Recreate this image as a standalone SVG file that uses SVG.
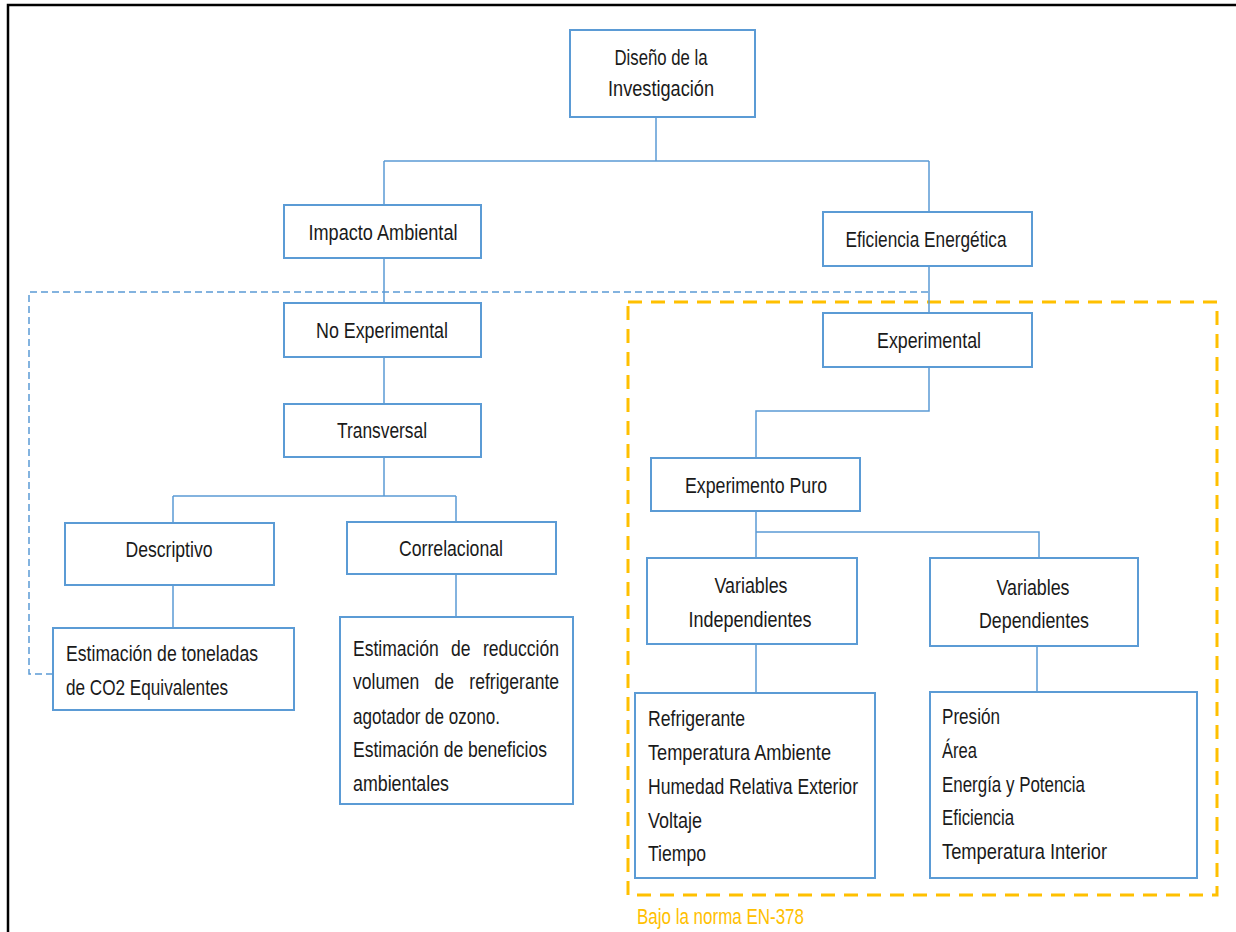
<svg xmlns="http://www.w3.org/2000/svg" width="1236" height="932" viewBox="0 0 1236 932">
<style>
.box{fill:#fff;stroke:#5B9BD5;stroke-width:2}
.t{font-family:"Liberation Sans",Arial,sans-serif;font-size:22px;fill:#1a1a1a}
.c{text-anchor:middle}
.ln{fill:none;stroke:#5B9BD5;stroke-width:1.5}
.dash{fill:none;stroke:#5B9BD5;stroke-width:1.5;stroke-dasharray:7 4}
.org{fill:none;stroke:#FFC000;stroke-width:3;stroke-dasharray:14 9}
</style>
<rect width="1236" height="932" fill="#fff"/>
<path d="M8 932 V5 H1236" fill="none" stroke="#000" stroke-width="2.5"/>
<rect class="org" x="628" y="302" width="589" height="593"/>
<text class="t" x="637" y="924" style="fill:#FFC000" textLength="167" lengthAdjust="spacingAndGlyphs">Bajo la norma EN-378</text>
<g id="connectors">
<path class="ln" d="M656 117 V161 M384 161 H929 M384 161 V205 M929 161 V212"/>
<path class="ln" d="M384 258 V303 M384 357 V404 M384 457 V496 M173 496 H456 M173 496 V523 M456 496 V522"/>
<path class="ln" d="M173 585 V628 M456 574 V617"/>
<path class="ln" d="M929 266 V313 M929 367 V411 H756 V458 M756 511 V532 H1039 V558 M756 532 V558"/>
<path class="ln" d="M756 644 V693 M1037 646 V692"/>
<path class="dash" d="M53 674 H29 V292 H929"/>
</g>
<g id="n-diseno"><rect class="box" x="570" y="30" width="185" height="87"/>
<text class="t c" x="661" y="65" textLength="93" lengthAdjust="spacingAndGlyphs">Diseño de la</text>
<text class="t c" x="661" y="96" textLength="106" lengthAdjust="spacingAndGlyphs">Investigación</text></g>
<g id="n-impacto"><rect class="box" x="284" y="205" width="197" height="53"/>
<text class="t c" x="383" y="240" textLength="149" lengthAdjust="spacingAndGlyphs">Impacto Ambiental</text></g>
<g id="n-eficiencia"><rect class="box" x="823" y="212" width="209" height="54"/>
<text class="t c" x="926" y="247" textLength="161" lengthAdjust="spacingAndGlyphs">Eficiencia Energética</text></g>
<g id="n-noexp"><rect class="box" x="284" y="303" width="197" height="54"/>
<text class="t c" x="382" y="338" textLength="132" lengthAdjust="spacingAndGlyphs">No Experimental</text></g>
<g id="n-transversal"><rect class="box" x="284" y="404" width="197" height="53"/>
<text class="t c" x="382" y="438" textLength="90" lengthAdjust="spacingAndGlyphs">Transversal</text></g>
<g id="n-descriptivo"><rect class="box" x="65" y="523" width="209" height="62"/>
<text class="t c" x="169" y="557" textLength="87" lengthAdjust="spacingAndGlyphs">Descriptivo</text></g>
<g id="n-correlacional"><rect class="box" x="347" y="522" width="209" height="52"/>
<text class="t c" x="451" y="556" textLength="104" lengthAdjust="spacingAndGlyphs">Correlacional</text></g>
<g id="n-toneladas"><rect class="box" x="53" y="628" width="241" height="82"/>
<text class="t" x="66" y="661" textLength="192" lengthAdjust="spacingAndGlyphs">Estimación de toneladas</text>
<text class="t" x="66" y="695" textLength="162" lengthAdjust="spacingAndGlyphs">de CO2 Equivalentes</text></g>
<g id="n-reduccion"><rect class="box" x="340" y="617" width="233" height="187"/>
<text class="t" x="353" y="656" word-spacing="9.4" textLength="206" lengthAdjust="spacingAndGlyphs">Estimación de reducción</text>
<text class="t" x="353" y="689" word-spacing="13.1" textLength="206" lengthAdjust="spacingAndGlyphs">volumen de refrigerante</text>
<text class="t" x="353" y="724" textLength="147" lengthAdjust="spacingAndGlyphs">agotador de ozono.</text>
<text class="t" x="353" y="757" textLength="194" lengthAdjust="spacingAndGlyphs">Estimación de beneficios</text>
<text class="t" x="353" y="791" textLength="96" lengthAdjust="spacingAndGlyphs">ambientales</text></g>
<g id="n-experimental"><rect class="box" x="823" y="313" width="209" height="54"/>
<text class="t c" x="929" y="348" textLength="104" lengthAdjust="spacingAndGlyphs">Experimental</text></g>
<g id="n-puro"><rect class="box" x="651" y="458" width="209" height="53"/>
<text class="t c" x="756" y="493" textLength="142" lengthAdjust="spacingAndGlyphs">Experimento Puro</text></g>
<g id="n-varind"><rect class="box" x="647" y="558" width="210" height="86"/>
<text class="t c" x="751" y="593" textLength="73" lengthAdjust="spacingAndGlyphs">Variables</text>
<text class="t c" x="750" y="627" textLength="123" lengthAdjust="spacingAndGlyphs">Independientes</text></g>
<g id="n-vardep"><rect class="box" x="930" y="558" width="208" height="88"/>
<text class="t c" x="1033" y="595" textLength="73" lengthAdjust="spacingAndGlyphs">Variables</text>
<text class="t c" x="1034" y="628" textLength="110" lengthAdjust="spacingAndGlyphs">Dependientes</text></g>
<g id="n-listind"><rect class="box" x="635" y="693" width="240" height="185"/>
<text class="t" x="648" y="726" textLength="97" lengthAdjust="spacingAndGlyphs">Refrigerante</text>
<text class="t" x="648" y="760" textLength="183" lengthAdjust="spacingAndGlyphs">Temperatura Ambiente</text>
<text class="t" x="648" y="794" textLength="210" lengthAdjust="spacingAndGlyphs">Humedad Relativa Exterior</text>
<text class="t" x="648" y="828" textLength="54" lengthAdjust="spacingAndGlyphs">Voltaje</text>
<text class="t" x="648" y="861" textLength="58" lengthAdjust="spacingAndGlyphs">Tiempo</text></g>
<g id="n-listdep"><rect class="box" x="930" y="692" width="267" height="186"/>
<text class="t" x="942" y="724" textLength="58" lengthAdjust="spacingAndGlyphs">Presión</text>
<text class="t" x="942" y="758" textLength="35" lengthAdjust="spacingAndGlyphs">Área</text>
<text class="t" x="942" y="792" textLength="143" lengthAdjust="spacingAndGlyphs">Energía y Potencia</text>
<text class="t" x="942" y="825" textLength="72" lengthAdjust="spacingAndGlyphs">Eficiencia</text>
<text class="t" x="942" y="859" textLength="165" lengthAdjust="spacingAndGlyphs">Temperatura Interior</text></g>
</svg>
